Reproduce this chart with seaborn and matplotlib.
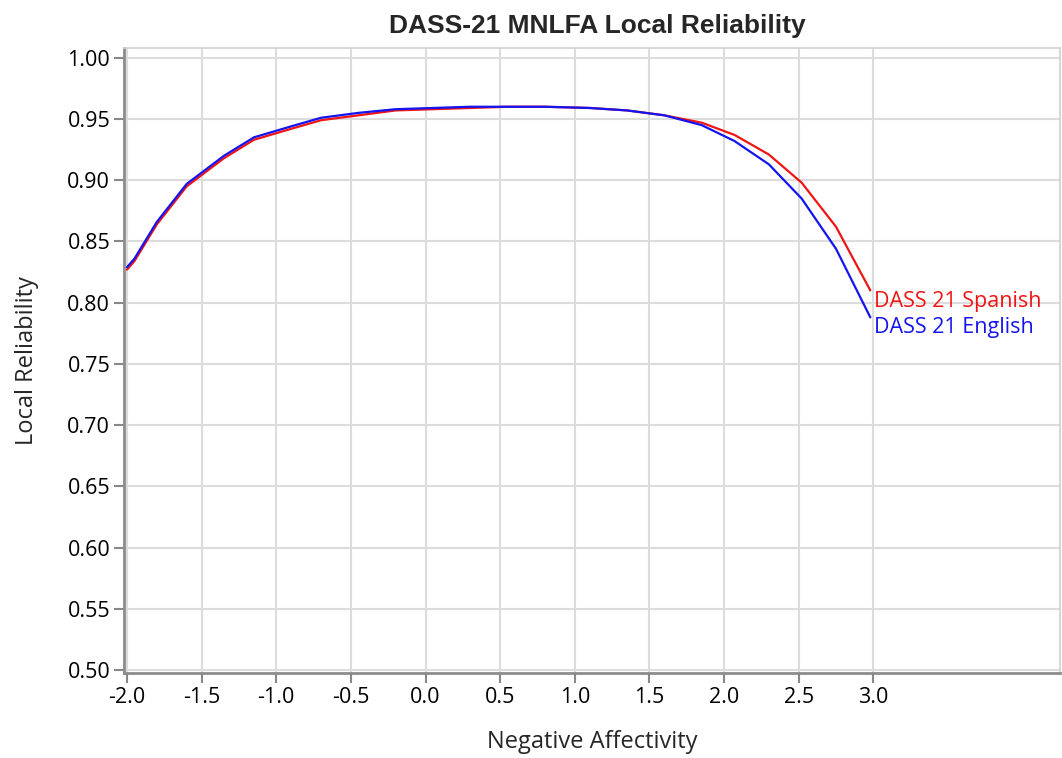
import matplotlib
matplotlib.use("Agg")
import matplotlib.pyplot as plt
import pandas as pd
import seaborn as sns

# Negative affectivity grid and local reliability
theta = [-2.0, -1.95, -1.8, -1.6, -1.35, -1.15, -0.9, -0.7, -0.45, -0.2, 0.05, 0.3,
         0.55, 0.8, 1.1, 1.35, 1.6, 1.85, 2.07, 2.3, 2.52, 2.75, 2.98]
english = [0.829, 0.836, 0.866, 0.897, 0.920, 0.935, 0.944, 0.951, 0.955, 0.958, 0.959, 0.960,
           0.960, 0.960, 0.959, 0.957, 0.953, 0.945, 0.932, 0.913, 0.885, 0.844, 0.788]
spanish = [0.827, 0.834, 0.864, 0.895, 0.918, 0.933, 0.942, 0.949, 0.953, 0.957, 0.958, 0.959,
           0.960, 0.960, 0.959, 0.957, 0.953, 0.947, 0.937, 0.921, 0.898, 0.862, 0.810]
versions = ["DASS 21 Spanish", "DASS 21 English"]
colors = {"DASS 21 Spanish": "#f01414", "DASS 21 English": "#1414f0"}
x_ticks = [-2.0, -1.5, -1.0, -0.5, 0.0, 0.5, 1.0, 1.5, 2.0, 2.5, 3.0]
y_ticks = [0.50, 0.55, 0.60, 0.65, 0.70, 0.75, 0.80, 0.85, 0.90, 0.95, 1.00]

frame = pd.concat([
    pd.DataFrame({"theta": theta, "rel": spanish, "version": versions[0]}),
    pd.DataFrame({"theta": theta, "rel": english, "version": versions[1]}),
])

sns.set_style("whitegrid", {"xtick.bottom": True, "ytick.left": True})
plt.rcParams["font.family"] = ["Open Sans", "DejaVu Sans"]
plt.rcParams["xtick.major.size"] = 7
plt.rcParams["ytick.major.size"] = 7

fig = plt.figure(figsize=(10.62, 7.58), dpi=100)
ax = fig.add_axes([0.1168, 0.1121, 0.8812, 0.8246])
sns.lineplot(data=frame, x="theta", y="rel", hue="version", palette=colors,
             linewidth=1.6, legend=False, ax=ax, sort=False)

for name, vals, dy in [(versions[0], spanish, -8), (versions[1], english, -7)]:
    ax.annotate(name, xy=(theta[-1], vals[-1]), xytext=(3, dy), textcoords="offset points",
                color=colors[name], fontsize=15.5, va="center", ha="left")

ax.set_xlim(-2.02, 4.25)
ax.set_ylim(0.4975, 1.008)
ax.set_xticks(x_ticks)
ax.set_xticklabels([f"{v:.1f}" for v in x_ticks])
ax.set_yticks(y_ticks)
ax.set_yticklabels([f"{v:.2f}" for v in y_ticks])
ax.grid(True, color="#dcdcdc", linewidth=1.5)
ax.tick_params(axis="both", bottom=True, left=True, labelsize=15.5, colors="#888888",
               length=7, width=1.5, direction="out", labelcolor="black", pad=3)
for side in ["left", "bottom"]:
    ax.spines[side].set_color("#8c8c8c")
    ax.spines[side].set_linewidth(2)
for side in ["top", "right"]:
    ax.spines[side].set_color("#d0d0d0")
    ax.spines[side].set_linewidth(1.2)

ax.set_xlabel("Negative Affectivity", fontsize=17, labelpad=16)
ax.set_ylabel("Local Reliability", fontsize=17, labelpad=20)
fig.suptitle("DASS-21 MNLFA Local Reliability", x=0.562, y=0.982,
             fontsize=19, fontweight="bold", family=["Liberation Sans", "DejaVu Sans"])

fig.savefig("out.png", dpi=100)
